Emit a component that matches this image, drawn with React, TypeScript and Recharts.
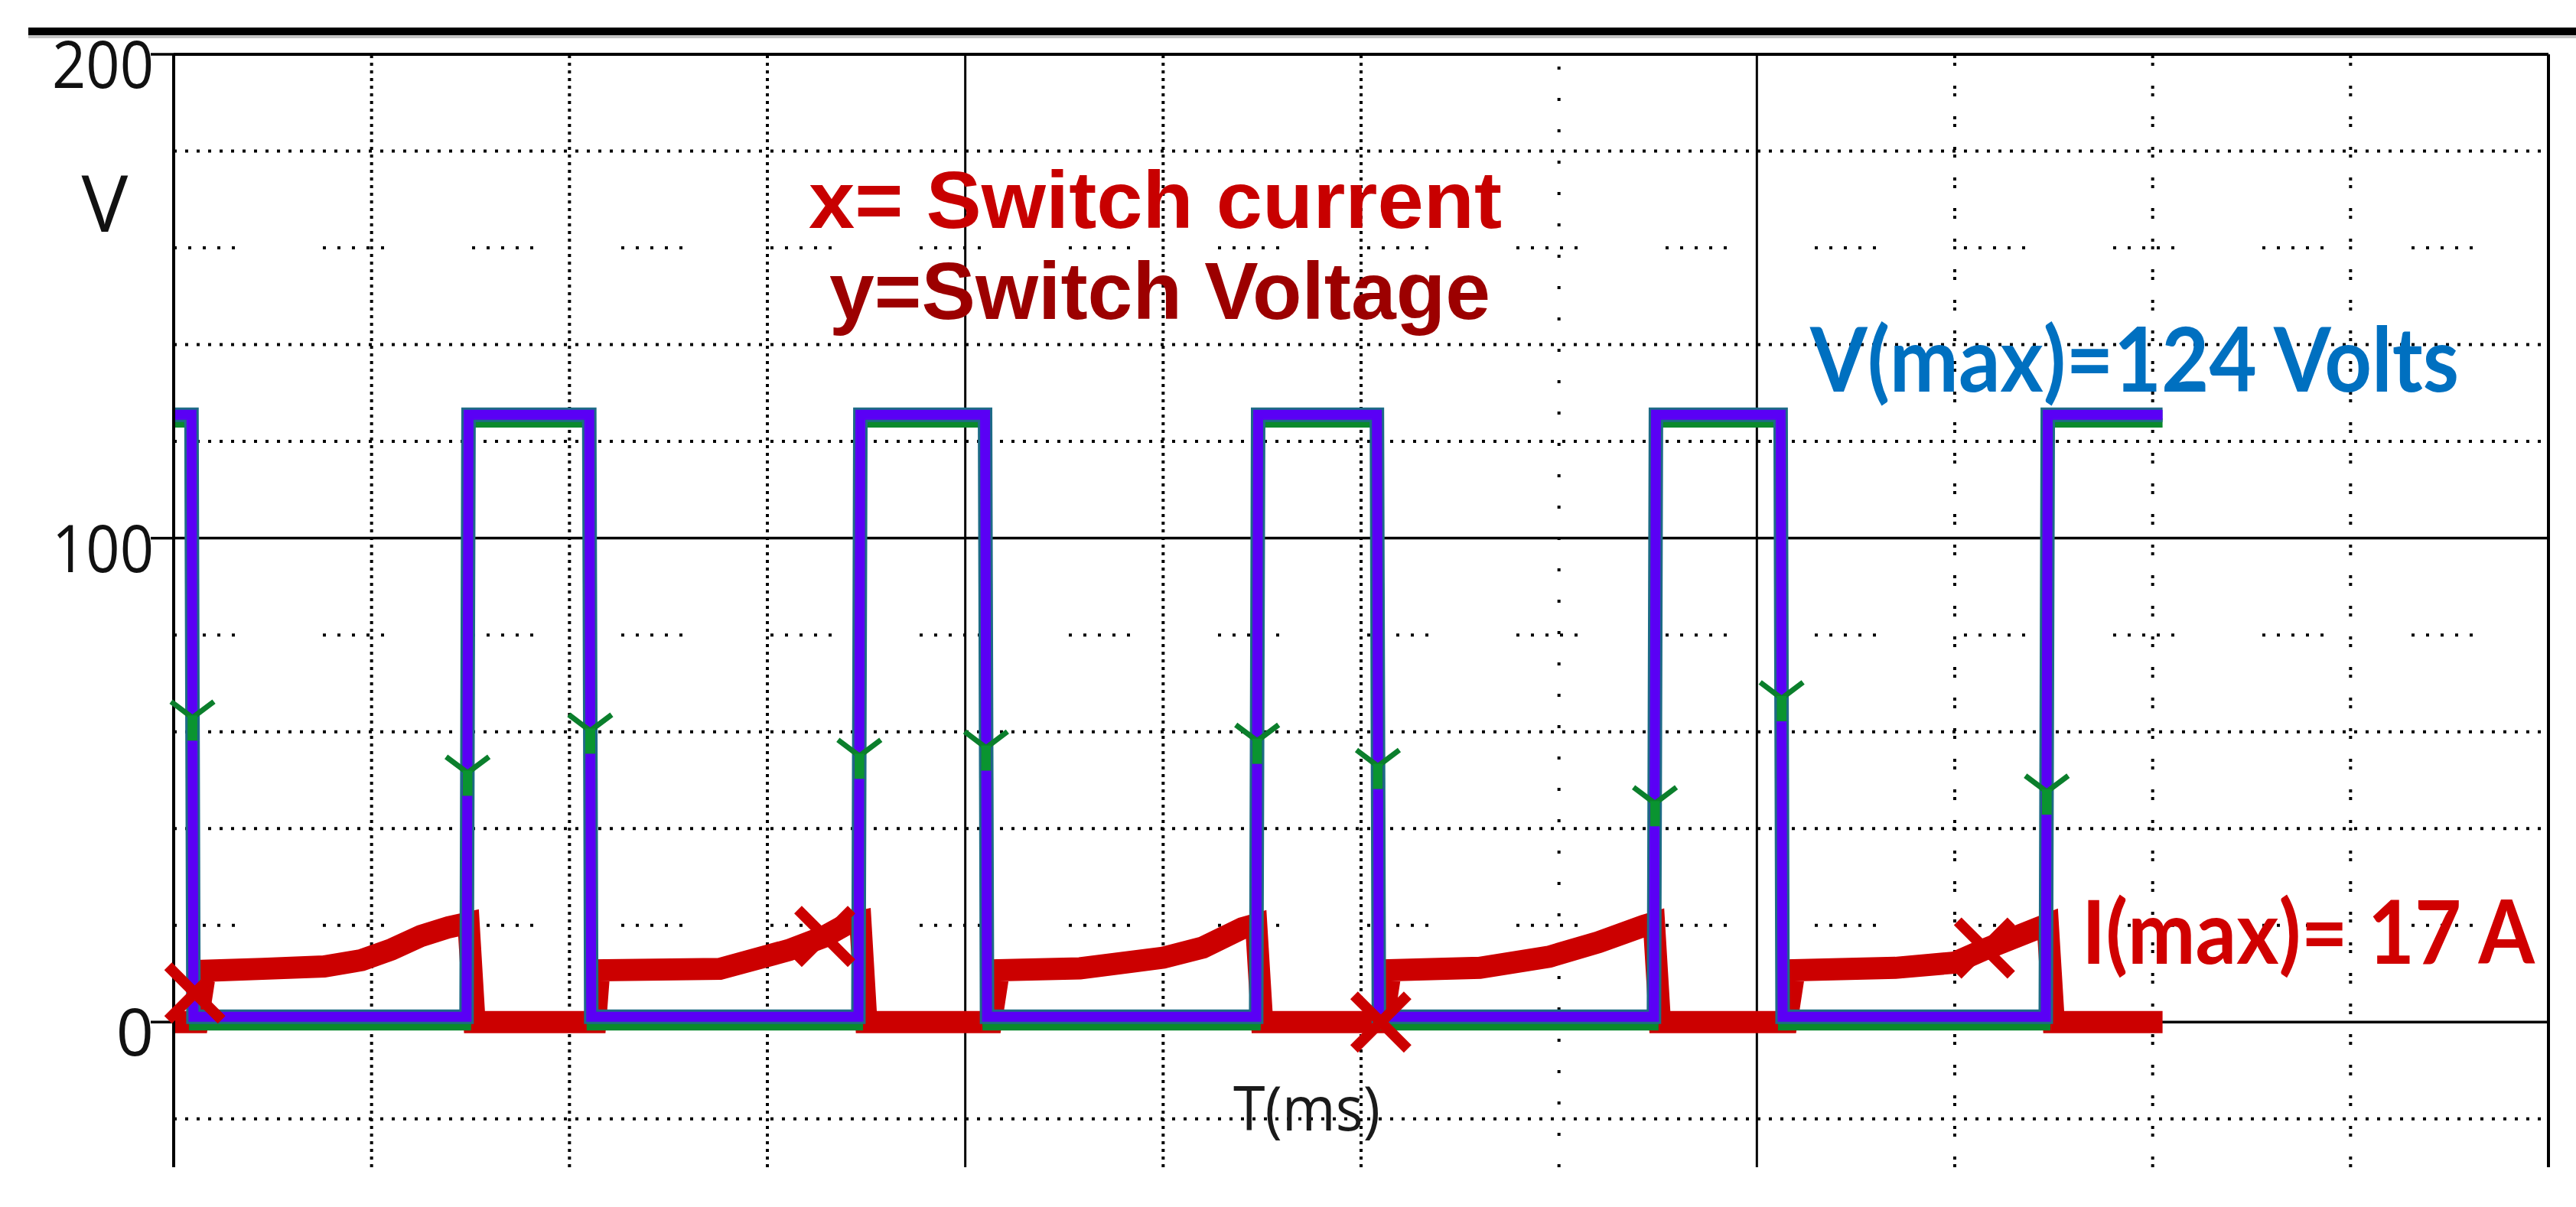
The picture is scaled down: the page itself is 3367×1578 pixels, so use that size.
import React from 'react';
import { ComposedChart, Line, XAxis, YAxis } from 'recharts';

const W = 3367;
const H = 1578;

// ---- axes ----
const xDomain: [number, number] = [0, 12];
const yDomain: [number, number] = [-30, 200];
const yTicks = [0, 100, 200];

// ---- grid values ----
const gridDenseH = [-20, 40, 60, 120, 140, 180];
const gridSparseH = [20, 80, 160];
const gridSolidH = [0, 100, 200];
const gridDenseV = [1, 2, 3, 5, 6];
const gridSparseV = [7];
const gridPairV = [9, 10, 11];
const gridSolidV = [4, 8, 12];

// ---- switch voltage (purple trace) ----
const voltT = [0, 0.09, 0.1, 1.48, 1.49, 2.1, 2.11, 3.46, 3.47, 4.1, 4.11, 5.47, 5.48, 6.08, 6.09, 7.48, 7.49, 8.12, 8.13, 9.46, 9.47, 10.05];
const voltV = [125.5, 125.5, 1.1, 1.1, 125.5, 125.5, 1.1, 1.1, 125.5, 125.5, 1.1, 1.1, 125.5, 125.5, 1.1, 1.1, 125.5, 125.5, 1.1, 1.1, 125.5, 125.5];
// ---- switch voltage (green trace) ----
const voltGreenV = [123.8, 123.8, -0.8, -0.8, 123.8, 123.8, -0.8, -0.8, 123.8, 123.8, -0.8, -0.8, 123.8, 123.8, -0.8, -0.8, 123.8, 123.8, -0.8, -0.8, 123.8, 123.8];

// ---- switch current (red trace) ----
const currT = [
  0, 0.12, 0.16, 0.45, 0.76, 0.95, 1.1, 1.25, 1.39, 1.49, 1.52,
  2.13, 2.15, 2.76, 3.11, 3.29, 3.4, 3.47, 3.5,
  4.13, 4.17, 4.58, 5.0, 5.2, 5.4, 5.47, 5.5,
  6.11, 6.15, 6.6, 6.95, 7.2, 7.43, 7.48, 7.51,
  8.15, 8.19, 8.7, 9.0, 9.15, 9.42, 9.47, 9.5, 10.05,
];
const currV = [
  0, 0, 10.6, 11.0, 11.5, 12.8, 15.0, 17.8, 19.6, 20.5, 0,
  0, 10.7, 11.0, 14.9, 17.7, 20.2, 20.8, 0,
  0, 10.7, 11.1, 13.3, 15.4, 19.4, 20.2, 0,
  0, 10.7, 11.2, 13.5, 16.5, 19.9, 20.5, 0,
  0, 10.7, 11.2, 12.3, 15.0, 19.4, 20.2, 0, 0,
];

// ---- trace markers ----
const xMarkT = [0.107, 3.29, 6.1, 9.15];
const xMarkV = [6.0, 17.7, 0, 15.3];
const yMarkT = [0.095, 1.485, 2.105, 3.465, 4.105, 5.475, 6.085, 7.485, 8.125, 9.465];
const yMarkV = [62.9, 51.5, 60.2, 55.0, 56.7, 58.1, 52.9, 45.2, 66.9, 47.6];

const zip = (ts: number[], vs: number[]) => ts.map((t, i) => ({ t, v: vs[i] }));

const XMark = (p: any) => {
  const { cx, cy } = p;
  if (cx == null || cy == null) return null;
  const a = 35;
  return (
    <g stroke="#cc0000" strokeWidth={14}>
      <line x1={cx - a} y1={cy - a} x2={cx + a} y2={cy + a} />
      <line x1={cx - a} y1={cy + a} x2={cx + a} y2={cy - a} />
    </g>
  );
};

const YMark = (p: any) => {
  const { cx, cy } = p;
  if (cx == null || cy == null) return null;
  return (
    <g fill="none">
      <path d={`M${cx - 28},${cy - 21} L${cx},${cy} L${cx + 28},${cy - 21}`} stroke="#0b7f2c" strokeWidth={7} />
      <line x1={cx} y1={cy - 3} x2={cx} y2={cy + 30} stroke="#0a9430" strokeWidth={13} />
    </g>
  );
};

const YTick = (p: any) => {
  const { x, y, payload } = p;
  const s = String(payload.value);
  const multi = s.length > 1;
  return (
    <text
      x={x + 4}
      y={y + 44}
      textAnchor="end"
      fontFamily="'Open Sans', sans-serif"
      fontSize={86}
      fill="#111"
      {...(multi ? { textLength: 133, lengthAdjust: 'spacingAndGlyphs' } : {})}
    >
      {s}
    </text>
  );
};

const gridLine = (key: string, pts: { t: number; v: number }[], dash: string | undefined, width: number) => (
  <Line
    key={key}
    data={pts}
    dataKey="v"
    type="linear"
    stroke="#000"
    strokeWidth={width}
    strokeDasharray={dash}
    dot={false}
    activeDot={false}
    isAnimationActive={false}
    legendType="none"
  />
);

export default function App() {
  const hLine = (v: number) => [{ t: xDomain[0], v }, { t: xDomain[1], v }];
  const vLine = (t: number) => [{ t, v: yDomain[0] }, { t, v: yDomain[1] }];
  return (
    <div style={{ position: 'absolute', left: 0, top: 0, width: W, height: H, background: '#fff', overflow: 'hidden' }}>
      <ComposedChart width={W} height={H} margin={{ top: 71, right: 36, bottom: 52, left: 27 }}>
        <XAxis type="number" dataKey="t" domain={xDomain} hide />
        <YAxis
          type="number"
          dataKey="v"
          domain={yDomain}
          ticks={yTicks}
          width={200}
          axisLine={{ stroke: '#000', strokeWidth: 4 }}
          tickLine={{ stroke: '#000', strokeWidth: 3.5 }}
          tickSize={30}
          tickMargin={0}
          tick={<YTick />}
          interval={0}
        />
        {gridDenseH.map((v) => gridLine('gdh' + v, hLine(v), '4 11', 4))}
        {gridSparseH.map((v) => gridLine('gsh' + v, hLine(v), '4 15 4 15 4 15 4 15 4 115', 4))}
        {gridDenseV.map((t) => gridLine('gdv' + t, vLine(t), '4 6', 4))}
        {gridSparseV.map((t) => gridLine('gsv' + t, vLine(t), '4 37', 4))}
        {gridPairV.map((t) => gridLine('gpv' + t, vLine(t), '4 6 4 26', 4))}
        {gridSolidH.map((v) => gridLine('gsolh' + v, hLine(v), undefined, v === 200 ? 4 : 3.5))}
        {gridSolidV.map((t) => gridLine('gsolv' + t, vLine(t), undefined, t === 12 ? 4 : 3))}

        <Line
          data={zip(currT, currV)}
          dataKey="v"
          type="linear"
          stroke="#cc0000"
          strokeWidth={29}
          dot={false}
          activeDot={false}
          isAnimationActive={false}
        />
        <Line
          data={zip(voltT, voltGreenV)}
          dataKey="v"
          type="linear"
          stroke="#0a8a2c"
          strokeWidth={12}
          dot={false}
          activeDot={false}
          isAnimationActive={false}
        />
        <Line
          data={zip(voltT, voltV)}
          dataKey="v"
          type="linear"
          stroke="#1d6b86"
          strokeWidth={19}
          dot={false}
          activeDot={false}
          isAnimationActive={false}
        />
        <Line
          data={zip(voltT, voltV)}
          dataKey="v"
          type="linear"
          stroke="#5a00f5"
          strokeWidth={13}
          dot={false}
          activeDot={false}
          isAnimationActive={false}
        />
        <Line
          data={zip(yMarkT, yMarkV)}
          dataKey="v"
          stroke="none"
          strokeWidth={0}
          dot={(p: any) => <YMark key={'ym' + p.index} {...p} />}
          activeDot={false}
          isAnimationActive={false}
        />
        <Line
          data={zip(xMarkT, xMarkV)}
          dataKey="v"
          stroke="none"
          strokeWidth={0}
          dot={(p: any) => <XMark key={'xm' + p.index} {...p} />}
          activeDot={false}
          isAnimationActive={false}
        />
      </ComposedChart>

      <svg width={W} height={H} style={{ position: 'absolute', left: 0, top: 0, pointerEvents: 'none' }}>
        <rect x={37} y={36} width={W - 37} height={10} fill="#000" />
        <rect x={37} y={46} width={W - 37} height={4} fill="#c4c4c4" />
        <text x={137} y={303} textAnchor="middle" fontFamily="'Open Sans', sans-serif" fontSize={102} fill="#111">V</text>
        <text x={1057} y={298} fontFamily="'Liberation Sans', Arial, sans-serif" fontWeight="bold" fontSize={105} fill="#c80000" textLength={906} lengthAdjust="spacingAndGlyphs">x= Switch current</text>
        <text x={1084} y={417} fontFamily="'Liberation Sans', Arial, sans-serif" fontWeight="bold" fontSize={105} fill="#9c0000" textLength={864} lengthAdjust="spacingAndGlyphs">y=Switch Voltage</text>
        <text x={2366} y={512} fontFamily="Lato, sans-serif" fontWeight="bold" fontSize={116} fill="#0070c0" textLength={848} lengthAdjust="spacingAndGlyphs">V(max)=124 Volts</text>
        <text x={2721} y={1260} fontFamily="Lato, sans-serif" fontWeight="bold" fontSize={114} fill="#d00000" textLength={592} lengthAdjust="spacingAndGlyphs">I(max)= 17 A</text>
        <text x={1612} y={1478} fontFamily="'Open Sans', sans-serif" fontSize={80} fill="#1a1a1a" textLength={192} lengthAdjust="spacingAndGlyphs">T(ms)</text>
      </svg>
    </div>
  );
}
